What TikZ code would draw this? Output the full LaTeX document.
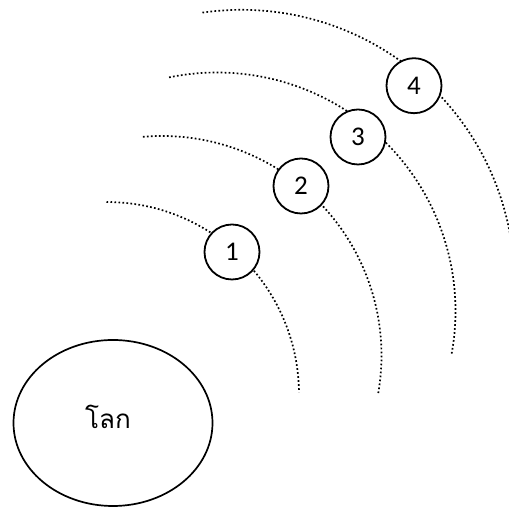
\documentclass[tikz,border=0pt]{standalone}
\usepackage{fontspec}
\setmainfont{Carlito}
\newfontfamily\thaifont[Script=Thai]{Loma}
\usetikzlibrary{positioning,shapes.geometric}

\begin{document}
\begin{tikzpicture}[
    x=1pt, y=1pt,
    orbit/.style={line width=1.7pt, dash pattern=on 1.7pt off 2.3pt},
    sat/.style={draw, circle, line width=1.8pt, fill=white, minimum size=55pt, inner sep=0pt, font=\fontsize{27}{27}\selectfont},
    planet/.style={draw, ellipse, line width=1.7pt, minimum width=199pt, minimum height=166pt, inner sep=0pt},
]
\clip (0,0) rectangle (509,508);

% centres of the four orbits
\coordinate (o1) at (106.5,113.5);
\coordinate (o2) at (162,152.5);
\coordinate (o3) at (217,197);
\coordinate (o4) at (241.4,225.2);

\draw[orbit] ([shift={(90:192.5)}]o1) arc[start angle=90, end angle=0.7, radius=192.5];
\draw[orbit] ([shift={(95:219.5)}]o2) arc[start angle=95, end angle=-9.9, radius=219.5];
\draw[orbit] ([shift={(101.6:238.5)}]o3) arc[start angle=101.6, end angle=-10.6, radius=238.5];
\draw[orbit] ([shift={(98.2:273)}]o4) arc[start angle=98.2, end angle=0, radius=273];

\node[sat] (s1) at (232,256) {1};
\node[sat] (s2) at (301,322) {2};
\node[sat] (s3) at (358,371) {3};
\node[sat] (s4) at (414,422.3) {4};

\node[planet] (earth) at (113,85) {};
\node[font=\thaifont\fontsize{26}{26}\selectfont] (earthname) at ([shift={(-5,6)}]earth.center) {โลก};
\end{tikzpicture}
\end{document}
